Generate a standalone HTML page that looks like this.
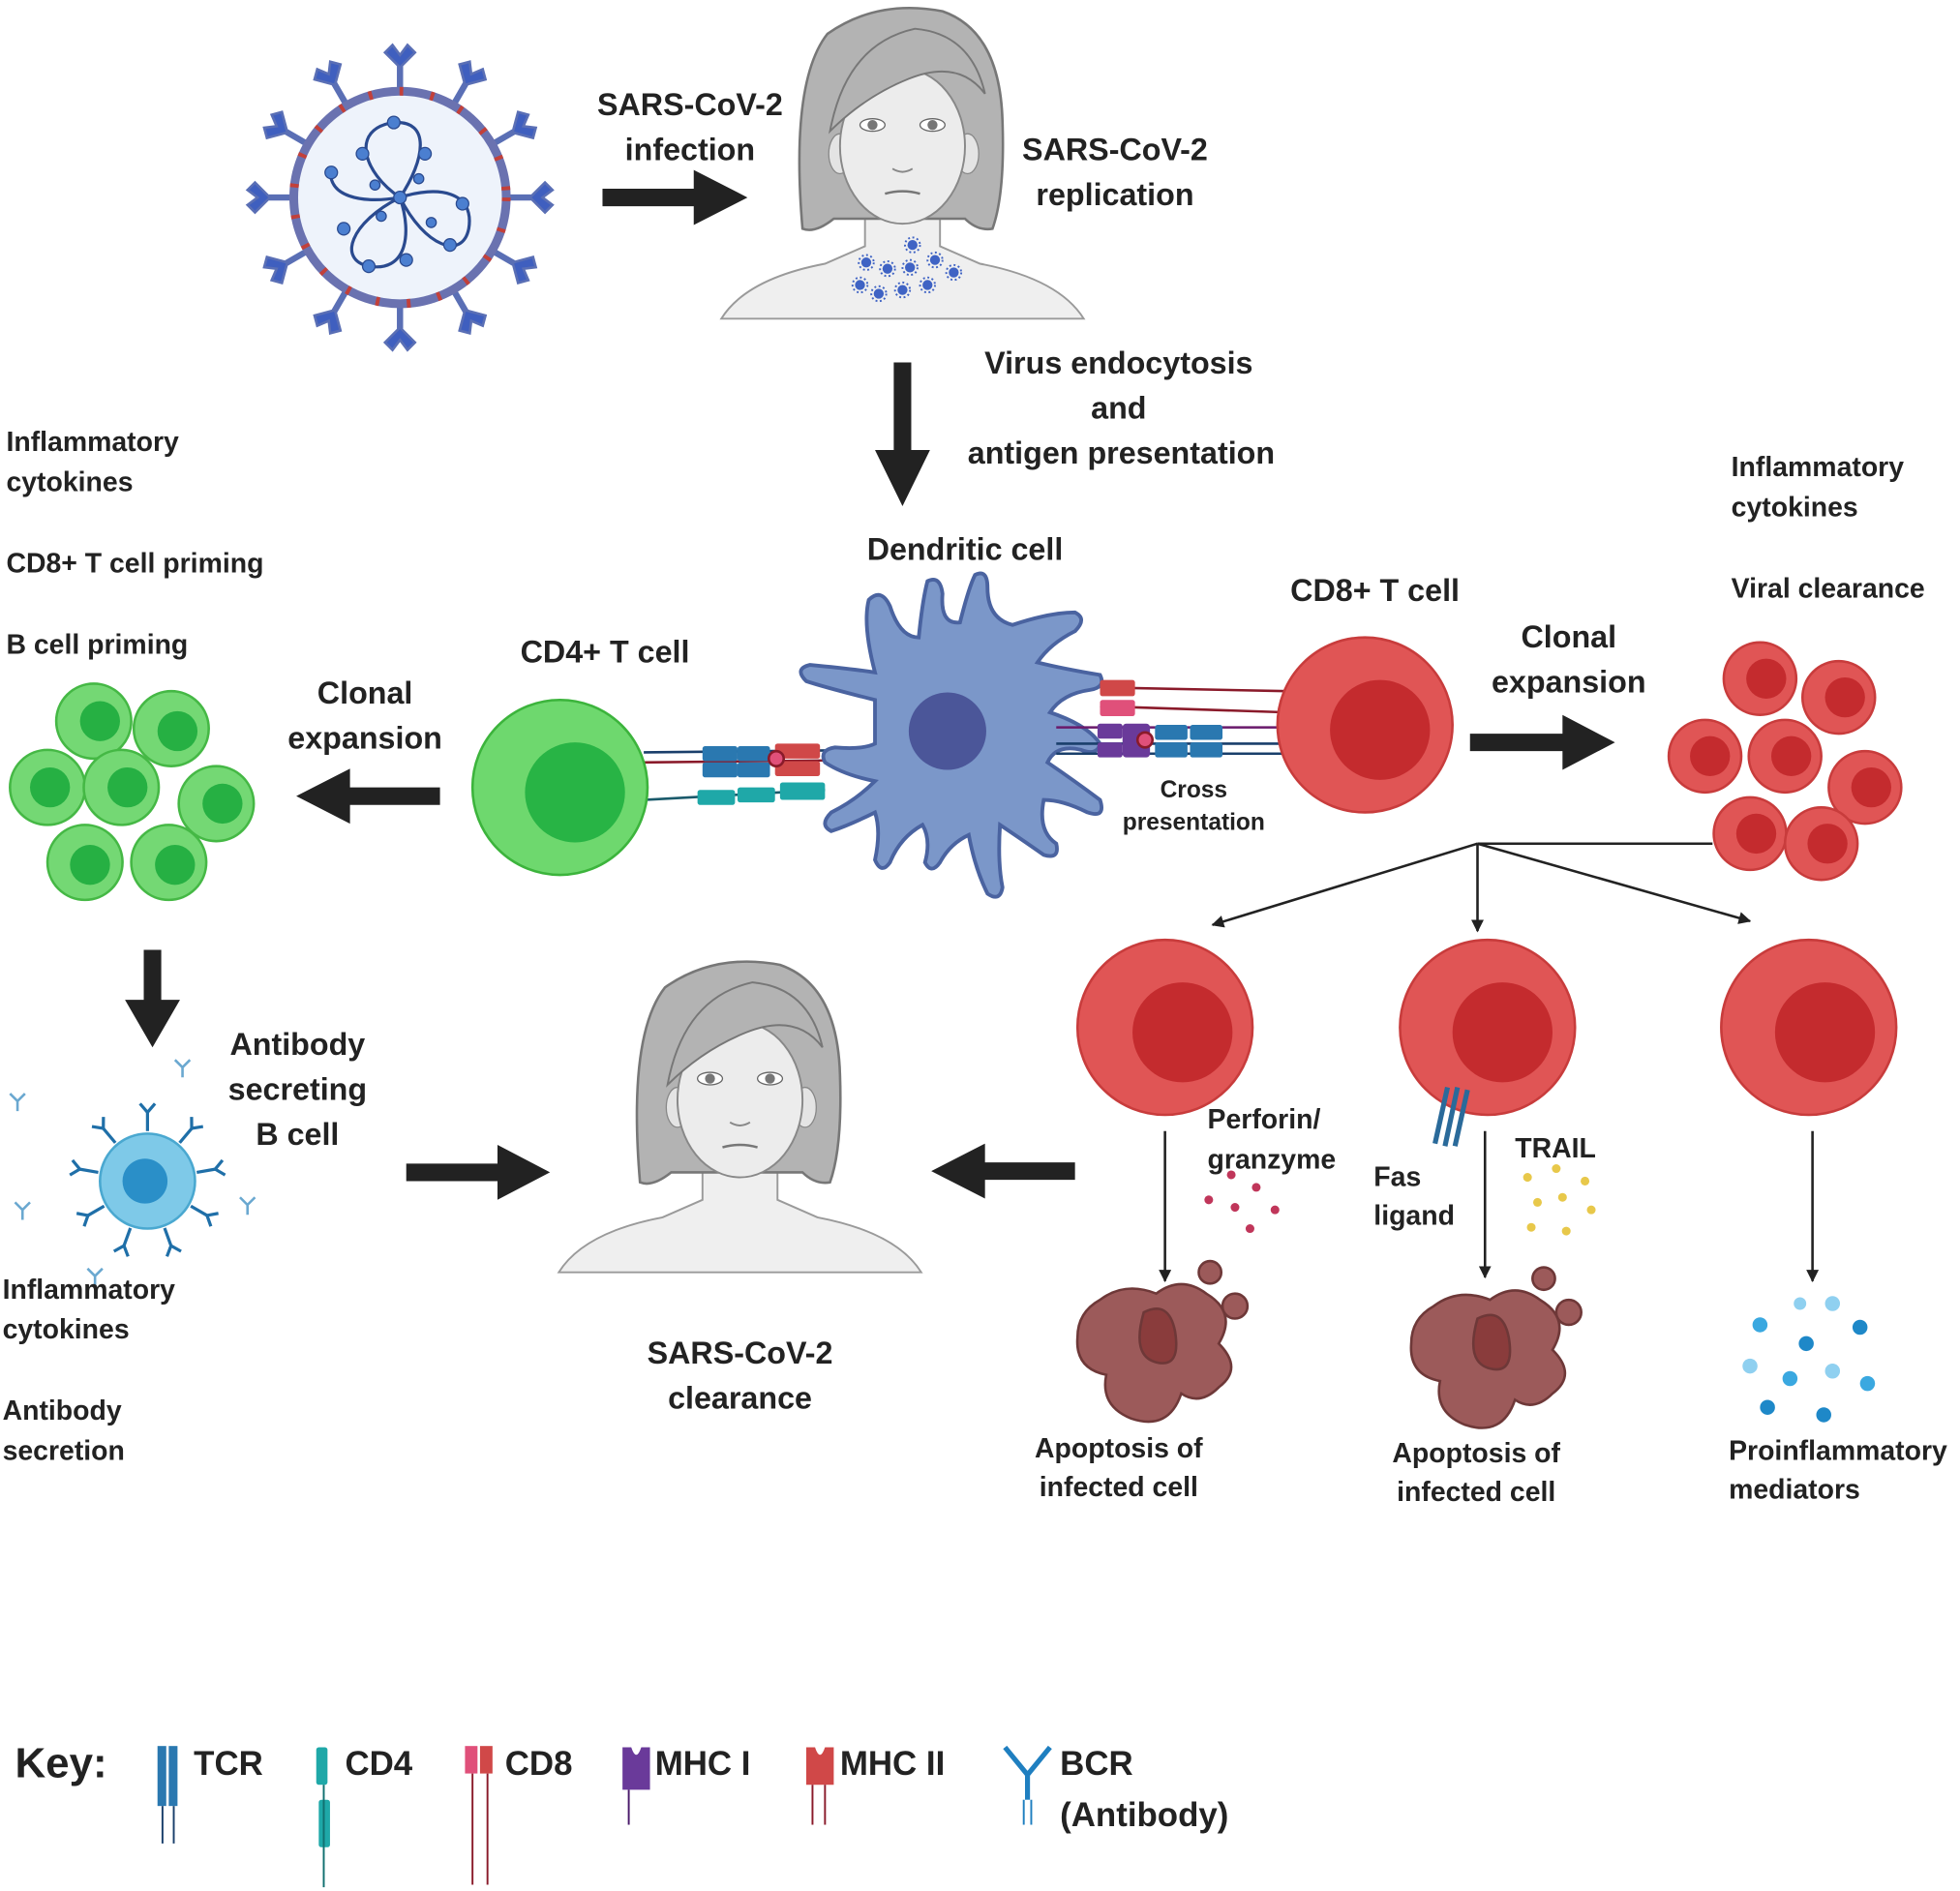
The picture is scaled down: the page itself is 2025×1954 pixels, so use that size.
<!DOCTYPE html>
<html><head><meta charset="utf-8"><style>
html,body{margin:0;padding:0;background:#fff}
svg{display:block}
text{font-family:"Liberation Sans",sans-serif;font-weight:bold;fill:#222}
</style></head><body>
<svg width="2025" height="1954" viewBox="0 0 1568 1513" xmlns="http://www.w3.org/2000/svg">
<defs>
<symbol id="woman" overflow="visible">
<path d="M-145,250 Q-125,218 -62,206 L-30,192 L-30,150 L30,150 L30,192 L62,206 Q125,218 145,250 Z" fill="#efefef" stroke="#9a9a9a" stroke-width="1.5"/>
<path d="M-80,178 Q-90,60 -60,22 Q-20,-6 32,4 Q78,20 80,92 Q82,150 72,178 Q60,180 50,170 L-55,170 Q-70,182 -80,178 Z" fill="#b3b3b3" stroke="#777" stroke-width="2"/>
<ellipse cx="-50" cy="118" rx="9" ry="16" fill="#e4e4e4" stroke="#888"/>
<ellipse cx="52" cy="118" rx="9" ry="16" fill="#e4e4e4" stroke="#888"/>
<ellipse cx="0" cy="112" rx="50" ry="62" fill="#ececec" stroke="#888" stroke-width="1.5"/>
<path d="M-58,100 Q-45,30 10,18 Q55,22 66,70 Q45,42 5,58 Q-30,72 -58,100 Z" fill="#b3b3b3" stroke="#777" stroke-width="1.5"/>
<ellipse cx="-24" cy="95" rx="10" ry="5" fill="#fff" stroke="#666"/><circle cx="-24" cy="95" r="4" fill="#777"/>
<ellipse cx="24" cy="95" rx="10" ry="5" fill="#fff" stroke="#666"/><circle cx="24" cy="95" r="4" fill="#777"/>
<path d="M-8,130 Q0,135 8,130" fill="none" stroke="#888" stroke-width="1.5"/>
<path d="M-14,150 Q0,146 14,150" fill="none" stroke="#777" stroke-width="2"/>
</symbol>
<symbol id="vir" overflow="visible"><circle r="4" fill="#3f63c4"/><circle r="6" fill="none" stroke="#3f63c4" stroke-width="1.5" stroke-dasharray="1.5 2"/></symbol>
<marker id="ah" markerWidth="10" markerHeight="10" refX="9" refY="5" orient="auto" markerUnits="userSpaceOnUse"><path d="M0,0 L10,5 L0,10 Z" fill="#222"/></marker>
</defs>

<!-- Virus -->
<g transform="translate(320,158)">
<g stroke="#5a6fb5" stroke-width="5" fill="#3f5fbf">
<g id="sp"><line x1="0" y1="-88" x2="0" y2="-105"/><path d="M0,-104 l-12,-12 l6,-6 l6,8 l6,-8 l6,6 z" stroke-width="2"/></g>
<use href="#sp" transform="rotate(30)"/><use href="#sp" transform="rotate(60)"/><use href="#sp" transform="rotate(90)"/><use href="#sp" transform="rotate(120)"/><use href="#sp" transform="rotate(150)"/><use href="#sp" transform="rotate(180)"/><use href="#sp" transform="rotate(210)"/><use href="#sp" transform="rotate(240)"/><use href="#sp" transform="rotate(270)"/><use href="#sp" transform="rotate(300)"/><use href="#sp" transform="rotate(330)"/>
</g>
<circle r="85" fill="#eef3fb" stroke="#6a72b0" stroke-width="7"/>
<circle r="85" fill="none" stroke="#c2403a" stroke-width="7" stroke-dasharray="3 22"/>
<g fill="none" stroke="#2a4a8f" stroke-width="2.5">
<path d="M0,0 C-30,-20 -40,-55 -5,-60 C25,-62 20,-30 0,0 C30,-10 60,-5 55,25 C50,50 20,40 0,0 C10,30 5,60 -25,55 C-50,50 -40,20 0,0 C-30,5 -60,0 -55,-25"/>
</g>
<g fill="#4b7fd0" stroke="#2a4a8f">
<circle cx="-5" cy="-60" r="5"/><circle cx="-30" cy="-35" r="5"/><circle cx="20" cy="-35" r="5"/><circle cx="50" cy="5" r="5"/><circle cx="40" cy="38" r="5"/><circle cx="5" cy="50" r="5"/><circle cx="-25" cy="55" r="5"/><circle cx="-45" cy="25" r="5"/><circle cx="-55" cy="-20" r="5"/><circle cx="0" cy="0" r="5"/><circle cx="15" cy="-15" r="4"/><circle cx="-15" cy="15" r="4"/><circle cx="25" cy="20" r="4"/><circle cx="-20" cy="-10" r="4"/>
</g>
</g>

<text x="552" y="92" font-size="25" text-anchor="middle">SARS-CoV-2</text>
<text x="552" y="128" font-size="25" text-anchor="middle">infection</text>
<path d="M482,151 L555,151 L555,136 L598,158 L555,180 L555,165 L482,165 Z" fill="#222"/>

<use href="#woman" x="722" y="5"/>
<g transform="translate(0,0)">
<use href="#vir" x="730" y="196"/><use href="#vir" x="748" y="208"/><use href="#vir" x="693" y="210"/><use href="#vir" x="710" y="215"/><use href="#vir" x="728" y="214"/><use href="#vir" x="688" y="228"/><use href="#vir" x="703" y="235"/><use href="#vir" x="722" y="232"/><use href="#vir" x="742" y="228"/><use href="#vir" x="763" y="218"/>
</g>
<text x="892" y="128" font-size="25" text-anchor="middle">SARS-CoV-2</text>
<text x="892" y="164" font-size="25" text-anchor="middle">replication</text>

<path d="M715,290 L729,290 L729,360 L744,360 L722,405 L700,360 L715,360 Z" fill="#222"/>
<text x="895" y="299" font-size="25" text-anchor="middle">Virus endocytosis</text>
<text x="895" y="335" font-size="25" text-anchor="middle">and</text>
<text x="897" y="371" font-size="25" text-anchor="middle">antigen presentation</text>

<g font-size="22">
<text x="5" y="361">Inflammatory</text><text x="5" y="393">cytokines</text>
<text x="5" y="458">CD8+ T cell priming</text>
<text x="5" y="523">B  cell priming</text>
<text x="1385" y="381">Inflammatory</text><text x="1385" y="413">cytokines</text>
<text x="1385" y="478">Viral clearance</text>
</g>

<text x="772" y="448" font-size="25" text-anchor="middle">Dendritic cell</text>
<text x="484" y="530" font-size="25" text-anchor="middle">CD4+ T cell</text>
<text x="1100" y="481" font-size="25" text-anchor="middle">CD8+ T cell</text>

<!-- green cluster -->
<g fill="#74d874" stroke="#45b845" stroke-width="2">
<circle cx="75" cy="577" r="30"/><circle cx="137" cy="583" r="30"/><circle cx="38" cy="630" r="30"/><circle cx="97" cy="630" r="30"/><circle cx="173" cy="643" r="30"/><circle cx="68" cy="690" r="30"/><circle cx="135" cy="690" r="30"/>
</g>
<g fill="#26b043">
<circle cx="80" cy="577" r="16"/><circle cx="142" cy="585" r="16"/><circle cx="40" cy="630" r="16"/><circle cx="102" cy="630" r="16"/><circle cx="178" cy="643" r="16"/><circle cx="72" cy="692" r="16"/><circle cx="140" cy="692" r="16"/>
</g>
<text x="292" y="563" font-size="25" text-anchor="middle">Clonal</text>
<text x="292" y="599" font-size="25" text-anchor="middle">expansion</text>
<path d="M352,630 L280,630 L280,615 L237,637 L280,659 L280,644 L352,644 Z" fill="#222"/>

<!-- receptors left -->
<g stroke-width="2" fill="none">
<line x1="515" y1="602" x2="700" y2="600" stroke="#1a3f6b"/><line x1="515" y1="610" x2="700" y2="608" stroke="#8a1a2a"/>
<line x1="515" y1="640" x2="660" y2="632" stroke="#1a5a6b"/>
</g>
<g>
<rect x="562" y="597" width="28" height="12" rx="2" fill="#2a78b0"/><rect x="590" y="597" width="26" height="12" rx="2" fill="#2a78b0"/>
<rect x="562" y="610" width="28" height="12" rx="2" fill="#2a78b0"/><rect x="590" y="610" width="26" height="12" rx="2" fill="#2a78b0"/>
<rect x="620" y="595" width="36" height="12" rx="2" fill="#d04848"/><rect x="620" y="609" width="36" height="12" rx="2" fill="#d04848"/>
<circle cx="621" cy="607" r="6" fill="#e0507a" stroke="#8a1a2a" stroke-width="2"/>
<rect x="558" y="632" width="30" height="12" rx="2" fill="#1fa8a8"/><rect x="590" y="630" width="30" height="12" rx="2" fill="#1fa8a8"/><rect x="624" y="626" width="36" height="14" rx="2" fill="#1fa8a8"/>
</g>

<!-- CD4 cell -->
<circle cx="448" cy="630" r="70" fill="#6ed86e" stroke="#3cb43c" stroke-width="2"/>
<circle cx="460" cy="634" r="40" fill="#28b445"/>

<!-- dendritic -->
<path d="M700,560 Q660,550 645,545 Q635,535 648,532 Q680,535 700,538 Q690,500 695,480 Q705,470 712,485 Q720,510 735,510 Q738,480 742,465 Q752,460 754,475 Q752,500 768,498 Q775,470 780,460 Q790,455 790,470 Q790,495 810,500 Q840,490 860,490 Q870,495 860,505 Q840,515 830,530 Q850,535 880,540 Q885,550 872,552 Q850,555 840,570 Q870,580 880,595 Q878,605 865,600 Q845,595 838,610 Q860,625 880,640 Q885,655 870,650 Q850,640 835,640 Q830,665 845,675 Q848,688 835,684 Q815,670 800,660 Q798,690 802,710 Q800,722 790,715 Q780,695 775,668 Q760,675 752,690 Q745,700 740,690 Q745,672 738,660 Q720,670 712,690 Q705,700 700,688 Q705,665 700,650 Q680,660 665,665 Q655,660 665,650 Q685,640 700,625 Q675,620 660,610 Q655,600 668,598 Q690,600 700,595 Z" fill="#7b97c9" stroke="#4a63a0" stroke-width="3"/>
<circle cx="758" cy="585" r="31" fill="#4b5699"/>

<!-- receptors right -->
<g stroke-width="2" fill="none">
<line x1="880" y1="550" x2="1030" y2="553" stroke="#8a1a2a"/><line x1="880" y1="565" x2="1030" y2="570" stroke="#8a1a2a"/>
<line x1="845" y1="582" x2="1030" y2="582" stroke="#6a1a6b"/><line x1="845" y1="595" x2="1030" y2="595" stroke="#1a3f6b"/><line x1="845" y1="603" x2="1030" y2="603" stroke="#1a3f6b"/>
</g>
<rect x="880" y="544" width="28" height="13" rx="2" fill="#d04848"/><rect x="880" y="560" width="28" height="13" rx="2" fill="#e0507a"/>
<rect x="878" y="579" width="20" height="12" rx="2" fill="#6a3a9a"/><rect x="878" y="594" width="20" height="12" rx="2" fill="#6a3a9a"/><rect x="898" y="579" width="22" height="27" rx="3" fill="#6a3a9a"/>
<circle cx="916" cy="592" r="6" fill="#e0507a" stroke="#8a1a2a" stroke-width="2"/>
<rect x="924" y="580" width="26" height="12" rx="2" fill="#2a78b0"/><rect x="952" y="580" width="26" height="12" rx="2" fill="#2a78b0"/>
<rect x="924" y="594" width="26" height="12" rx="2" fill="#2a78b0"/><rect x="952" y="594" width="26" height="12" rx="2" fill="#2a78b0"/>
<text x="955" y="638" font-size="19" text-anchor="middle">Cross</text>
<text x="955" y="664" font-size="19" text-anchor="middle">presentation</text>

<!-- CD8 cell -->
<circle cx="1092" cy="580" r="70" fill="#e05555" stroke="#c83c3c" stroke-width="2"/>
<circle cx="1104" cy="584" r="40" fill="#c42b2e"/>

<text x="1255" y="518" font-size="25" text-anchor="middle">Clonal</text>
<text x="1255" y="554" font-size="25" text-anchor="middle">expansion</text>
<path d="M1176,587 L1250,587 L1250,572 L1292,594 L1250,616 L1250,601 L1176,601 Z" fill="#222"/>

<!-- red cluster -->
<g fill="#e05555" stroke="#c83c3c" stroke-width="2">
<circle cx="1408" cy="543" r="29"/><circle cx="1471" cy="558" r="29"/><circle cx="1364" cy="605" r="29"/><circle cx="1428" cy="605" r="29"/><circle cx="1492" cy="630" r="29"/><circle cx="1400" cy="667" r="29"/><circle cx="1457" cy="675" r="29"/>
</g>
<g fill="#c42b2e">
<circle cx="1413" cy="543" r="16"/><circle cx="1476" cy="558" r="16"/><circle cx="1368" cy="605" r="16"/><circle cx="1433" cy="605" r="16"/><circle cx="1497" cy="630" r="16"/><circle cx="1405" cy="667" r="16"/><circle cx="1462" cy="675" r="16"/>
</g>

<!-- branching -->
<g stroke="#222" stroke-width="2" fill="none">
<line x1="1182" y1="675" x2="1370" y2="675"/>
<line x1="1182" y1="675" x2="970" y2="740" marker-end="url(#ah)"/>
<line x1="1182" y1="675" x2="1182" y2="745" marker-end="url(#ah)"/>
<line x1="1182" y1="675" x2="1400" y2="737" marker-end="url(#ah)"/>
<line x1="932" y1="905" x2="932" y2="1025" marker-end="url(#ah)"/>
<line x1="1188" y1="905" x2="1188" y2="1022" marker-end="url(#ah)"/>
<line x1="1450" y1="905" x2="1450" y2="1025" marker-end="url(#ah)"/>
</g>

<g fill="#e05555" stroke="#c83c3c" stroke-width="2">
<circle cx="932" cy="822" r="70"/><circle cx="1190" cy="822" r="70"/><circle cx="1447" cy="822" r="70"/>
</g>
<g fill="#c42b2e"><circle cx="946" cy="826" r="40"/><circle cx="1202" cy="826" r="40"/><circle cx="1460" cy="826" r="40"/></g>

<!-- Fas receptor -->
<g stroke="#2a6a9a" stroke-width="4"><line x1="1158" y1="870" x2="1148" y2="915"/><line x1="1166" y1="870" x2="1156" y2="917"/><line x1="1174" y1="872" x2="1164" y2="917"/></g>

<g font-size="22">
<text x="966" y="903">Perforin/</text><text x="966" y="935">granzyme</text>
<text x="1099" y="949">Fas</text><text x="1099" y="980">ligand</text>
<text x="1212" y="926">TRAIL</text>
</g>
<g fill="#c0365a"><circle cx="985" cy="940" r="3.5"/><circle cx="1005" cy="950" r="3.5"/><circle cx="967" cy="960" r="3.5"/><circle cx="988" cy="966" r="3.5"/><circle cx="1020" cy="968" r="3.5"/><circle cx="1000" cy="983" r="3.5"/></g>
<g fill="#e8c84a"><circle cx="1222" cy="942" r="3.5"/><circle cx="1245" cy="935" r="3.5"/><circle cx="1268" cy="945" r="3.5"/><circle cx="1230" cy="962" r="3.5"/><circle cx="1250" cy="958" r="3.5"/><circle cx="1273" cy="968" r="3.5"/><circle cx="1225" cy="982" r="3.5"/><circle cx="1253" cy="985" r="3.5"/></g>

<!-- apoptotic blobs -->
<g id="apo" fill="#9c5a5a" stroke="#6e3838" stroke-width="2">
<path d="M880,1040 Q900,1025 925,1035 Q945,1020 965,1035 Q990,1050 975,1075 Q995,1095 975,1110 Q960,1125 945,1115 Q935,1145 905,1135 Q880,1125 885,1100 Q860,1095 862,1070 Q862,1050 880,1040 Z"/>
<circle cx="968" cy="1018" r="9"/><circle cx="988" cy="1045" r="10"/>
<path d="M915,1050 Q935,1040 940,1065 Q945,1095 925,1090 Q905,1085 915,1050 Z" fill="#8a3c3c"/>
</g>
<use href="#apo" x="267" y="5"/>

<g fill="#3aa8e0"><circle cx="1408" cy="1060" r="6"/><circle cx="1440" cy="1043" r="5" fill="#8fd0f0"/><circle cx="1466" cy="1043" r="6" fill="#8fd0f0"/><circle cx="1488" cy="1062" r="6" fill="#1e88c8"/><circle cx="1445" cy="1075" r="6" fill="#1e88c8"/><circle cx="1400" cy="1093" r="6" fill="#8fd0f0"/><circle cx="1432" cy="1103" r="6"/><circle cx="1466" cy="1097" r="6" fill="#8fd0f0"/><circle cx="1494" cy="1107" r="6"/><circle cx="1414" cy="1126" r="6" fill="#1e88c8"/><circle cx="1459" cy="1132" r="6" fill="#1e88c8"/></g>

<g font-size="22" text-anchor="middle">
<text x="895" y="1166">Apoptosis of</text><text x="895" y="1197">infected cell</text>
<text x="1181" y="1170">Apoptosis of</text><text x="1181" y="1201">infected cell</text>
</g>
<text x="1383" y="1168" font-size="22">Proinflammatory</text><text x="1383" y="1199" font-size="22">mediators</text>

<path d="M860,930 L788,930 L788,915 L745,937 L788,959 L788,944 L860,944 Z" fill="#222"/>
<use href="#woman" x="592" y="768"/>
<text x="592" y="1091" font-size="25" text-anchor="middle">SARS-CoV-2</text>
<text x="592" y="1127" font-size="25" text-anchor="middle">clearance</text>
<path d="M325,931 L398,931 L398,916 L440,938 L398,960 L398,945 L325,945 Z" fill="#222"/>

<path d="M115,760 L129,760 L129,800 L144,800 L122,838 L100,800 L115,800 Z" fill="#222"/>

<!-- B cell -->
<g stroke="#1f6fa8" stroke-width="2.5" fill="none">
<g id="ab"><line x1="0" y1="-40" x2="0" y2="-55"/><path d="M-6,-62 L0,-55 L6,-62"/></g>
<use href="#ab" transform="translate(118,945) rotate(0)"/>
</g>
<g transform="translate(118,945)" stroke="#1f6fa8" stroke-width="2.5" fill="none">
<use href="#ab" transform="rotate(40)"/><use href="#ab" transform="rotate(80)"/><use href="#ab" transform="rotate(120)"/><use href="#ab" transform="rotate(160)"/><use href="#ab" transform="rotate(200)"/><use href="#ab" transform="rotate(240)"/><use href="#ab" transform="rotate(280)"/><use href="#ab" transform="rotate(320)"/>
</g>
<circle cx="118" cy="945" r="38" fill="#7ec9e8" stroke="#4aa8d0" stroke-width="2"/>
<circle cx="116" cy="945" r="18" fill="#2a8fc8"/>
<g stroke="#6aa8d0" stroke-width="2" fill="none">
<path d="M140,848 l6,6 l6,-6 M146,854 l0,8"/><path d="M8,875 l6,6 l6,-6 M14,881 l0,8"/><path d="M12,962 l6,6 l6,-6 M18,968 l0,8"/><path d="M192,958 l6,6 l6,-6 M198,964 l0,8"/><path d="M70,1015 l6,6 l6,-6 M76,1021 l0,8"/>
</g>
<text x="238" y="844" font-size="25" text-anchor="middle">Antibody</text>
<text x="238" y="880" font-size="25" text-anchor="middle">secreting</text>
<text x="238" y="916" font-size="25" text-anchor="middle">B  cell</text>
<g font-size="22">
<text x="2" y="1039">Inflammatory</text><text x="2" y="1071">cytokines</text>
<text x="2" y="1136">Antibody</text><text x="2" y="1168">secretion</text>
</g>

<!-- Key -->
<text x="12" y="1422" font-size="34">Key:</text>
<g font-size="27">
<text x="155" y="1420">TCR</text><text x="276" y="1420">CD4</text><text x="404" y="1420">CD8</text><text x="524" y="1420">MHC I</text><text x="672" y="1420">MHC II</text><text x="848" y="1420">BCR</text><text x="848" y="1461">(Antibody)</text>
</g>
<rect x="126" y="1397" width="7" height="48" fill="#2a78b0"/><rect x="135" y="1397" width="7" height="48" fill="#2a78b0"/>
<line x1="130" y1="1445" x2="130" y2="1475" stroke="#1a3f6b" stroke-width="1.5"/><line x1="139" y1="1445" x2="139" y2="1475" stroke="#1a3f6b" stroke-width="1.5"/>
<rect x="253" y="1398" width="9" height="30" rx="2" fill="#1fa8a8"/><rect x="255" y="1440" width="9" height="38" rx="2" fill="#1fa8a8"/>
<line x1="259" y1="1428" x2="259" y2="1510" stroke="#117070" stroke-width="1.5"/>
<rect x="372" y="1397" width="10" height="22" fill="#e0507a"/><rect x="384" y="1397" width="10" height="22" fill="#d04848"/>
<line x1="378" y1="1419" x2="378" y2="1508" stroke="#8a1a2a" stroke-width="1.5"/><line x1="390" y1="1419" x2="390" y2="1508" stroke="#8a1a2a" stroke-width="1.5"/>
<path d="M498,1398 L505,1398 Q509,1410 513,1398 L520,1398 L520,1432 L498,1432 Z" fill="#6a3a9a"/>
<line x1="503" y1="1432" x2="503" y2="1460" stroke="#4a1a6b" stroke-width="1.5"/>
<path d="M645,1398 L652,1398 Q656,1410 660,1398 L667,1398 L667,1428 L645,1428 Z" fill="#d04848"/>
<line x1="650" y1="1428" x2="650" y2="1460" stroke="#8a1a2a" stroke-width="1.5"/><line x1="660" y1="1428" x2="660" y2="1460" stroke="#8a1a2a" stroke-width="1.5"/>
<g stroke="#1f7fc0" stroke-width="4" fill="none"><path d="M804,1398 L822,1420 L840,1398"/><line x1="822" y1="1420" x2="822" y2="1440"/></g>
<g stroke="#1f7fc0" stroke-width="1.5"><line x1="819" y1="1440" x2="819" y2="1460"/><line x1="825" y1="1440" x2="825" y2="1460"/></g>
</svg>
</body></html>
